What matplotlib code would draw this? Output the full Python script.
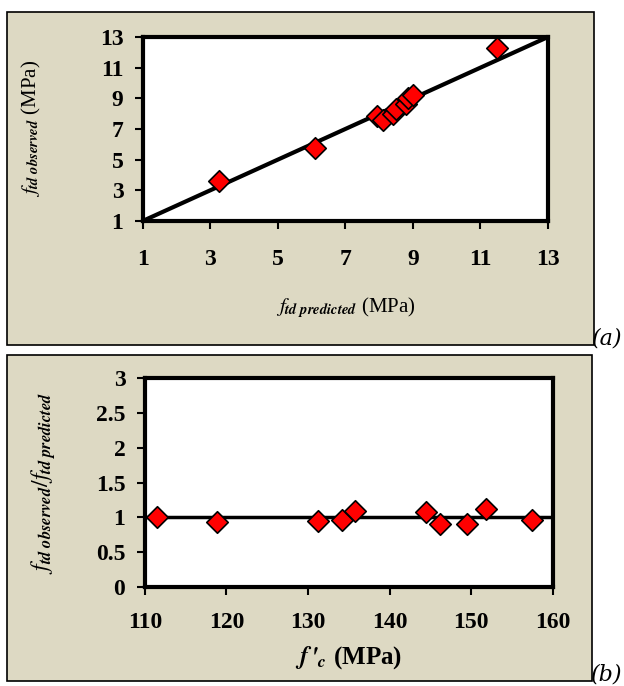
import matplotlib
matplotlib.use("Agg")
import matplotlib.pyplot as plt
from matplotlib.patches import Rectangle

plt.rcParams["mathtext.fontset"] = "stix"
plt.rcParams["font.family"] = "Liberation Serif"

# (a) predicted vs observed direct tensile strength
f_pred = [3.25, 6.1, 7.95, 8.1, 8.4, 8.5, 8.8, 8.85, 9.0, 11.5]
f_obs = [3.6, 5.75, 7.85, 7.6, 8.0, 8.3, 8.6, 9.0, 9.2, 12.3]
a_ticks = [1, 3, 5, 7, 9, 11, 13]
line_a = [1, 13]

# (b) ratio observed/predicted vs compressive strength
fc = [111.5, 118.8, 131.2, 134.2, 135.8, 144.4, 146.2, 149.5, 151.8, 157.5]
ratio = [1.0, 0.93, 0.95, 0.96, 1.09, 1.08, 0.91, 0.91, 1.12, 0.97]
b_xticks = [110, 120, 130, 140, 150, 160]
b_yticks = [0, 0.5, 1, 1.5, 2, 2.5, 3]
b_ylabels = ["0", "0.5", "1", "1.5", "2", "2.5", "3"]

tan = "#ddd9c3"
fig = plt.figure(figsize=(6.24, 6.86), dpi=100)

# tan panels behind each chart
for y0, h, w in [(0.497, 0.486, 0.941), (0.007, 0.476, 0.938)]:
    fig.patches.append(Rectangle((0.011, y0), w, h, transform=fig.transFigure,
                                 facecolor=tan, edgecolor="black", linewidth=1.2, zorder=-5))

def style(ax, xpad):
    ax.set_facecolor("white")
    for s in ax.spines.values():
        s.set_linewidth(3)
    ax.tick_params(direction="out", length=6, width=1.5, labelsize=17)
    ax.tick_params(axis="y", pad=8)
    ax.tick_params(axis="x", pad=xpad)
    for lab in ax.get_xticklabels() + ax.get_yticklabels():
        lab.set_fontweight("bold")

mk = dict(marker="D", s=120, facecolor="red", edgecolor="black", linewidth=1.2, zorder=3)

ax1 = fig.add_axes([0.229, 0.678, 0.649, 0.268])
ax1.plot(line_a, line_a, color="black", linewidth=3, zorder=2)
ax1.scatter(f_pred, f_obs, **mk)
ax1.set_xlim(1, 13)
ax1.set_ylim(1, 13)
ax1.set_xticks(a_ticks)
ax1.set_yticks(a_ticks)
style(ax1, 14)
ax1.set_xlabel(r"$f_{\mathbfit{td\ predicted}}$" + " (MPa)", fontsize=15, labelpad=18)
ax1.set_ylabel(r"$f_{\mathbfit{td\ observed}}$" + " (MPa)", fontsize=15, labelpad=41)

ax2 = fig.add_axes([0.232, 0.144, 0.654, 0.305])
ax2.axhline(1, color="black", linewidth=2.5, zorder=2)
ax2.scatter(fc, ratio, **mk)
ax2.set_xlim(110, 160)
ax2.set_ylim(0, 3)
ax2.set_xticks(b_xticks)
ax2.set_yticks(b_yticks)
ax2.set_yticklabels(b_ylabels)
style(ax2, 12)
ax2.set_xlabel(r"$\mathbfit{f\,'_{c}}$" + " (MPa)", fontsize=18, fontweight="bold", labelpad=8)
ax2.set_ylabel(r"$f_{\mathbfit{td\ observed}}/f_{\mathbfit{td\ predicted}}$", fontsize=17, labelpad=27)

fig.text(0.998, 0.498, "(a)", fontsize=16, style="italic", family="DejaVu Serif", ha="right")
fig.text(0.998, 0.008, "(b)", fontsize=16, style="italic", family="DejaVu Serif", ha="right")

fig.savefig("out.png", dpi=100)
